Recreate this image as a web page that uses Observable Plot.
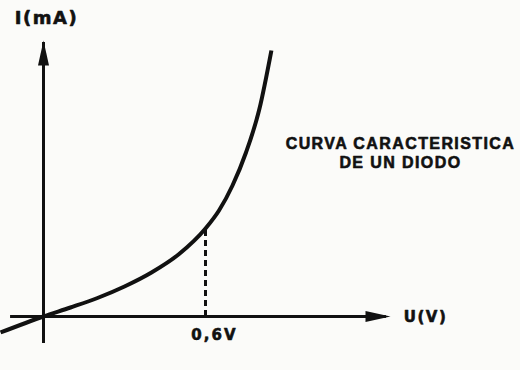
<!DOCTYPE html>
<html>
<head>
<meta charset="utf-8">
<script src="https://cdn.jsdelivr.net/npm/d3@7"></script>
<script src="https://cdn.jsdelivr.net/npm/@observablehq/plot@0.6"></script>
<style>
  html, body { margin: 0; padding: 0; background: #fbfbf9; }
  svg { display: block; }
  .lbl-i text { letter-spacing: 1.5px; }
  .lbl-u text { letter-spacing: 1.5px; }
  .lbl-knee text { letter-spacing: 2px; }
  .lbl-title text { letter-spacing: 1.4px; }
</style>
</head>
<body>
<div id="chart"></div>
<script>
// Diode characteristic curve: voltage (V) vs current (mA, arbitrary scale)
const voltage = [-0.159, 0, 0.1, 0.2, 0.3, 0.4, 0.5, 0.6, 0.65, 0.7, 0.75, 0.8, 0.844];
const current = [-1.6, 0, 0.9, 1.85, 3.0, 4.4, 6.2, 8.8, 10.6, 13.1, 16.4, 20.8, 26.6];
const kneeVoltage = [0.6];
const kneeCurrent = [8.8];
const kneeLabel = ["0,6V"];
const axisLabels = ["I(mA)", "U(V)"];
const titleLines = ["CURVA CARACTERISTICA", "DE UN DIODO"];
// axis extents (in data units)
const xAxisExtent = [-0.122, 1.27];
const yAxisExtent = [-2.7, 27.4];

const curve = voltage.map((v, i) => ({v, i: current[i]}));

// elongated filled arrowhead pointing up (rotated for x axis)
const arrowHead = {
  draw(ctx, size) {
    ctx.moveTo(0, -13);
    ctx.lineTo(5.5, 12);
    ctx.lineTo(-5.5, 12);
    ctx.closePath();
  }
};

const ink = "#111";
const textStyle = {fontWeight: "bold", fill: ink, stroke: ink, strokeWidth: 0.6};

const chart = Plot.plot({
  width: 520,
  height: 370,
  margin: 0,
  style: {background: "transparent", color: ink},
  x: {domain: [-43 / 270, 477 / 270], axis: null},
  y: {domain: [-5.4, 31.6], axis: null},
  marks: [
    // x axis
    Plot.ruleY([0], {x1: xAxisExtent[0], x2: xAxisExtent[1], stroke: ink, strokeWidth: 3}),
    Plot.dot([{v: 1.237, i: 0}], {x: "v", y: "i", symbol: arrowHead, fill: ink, stroke: "none", rotate: 90}),
    // y axis
    Plot.ruleX([0], {y1: yAxisExtent[0], y2: yAxisExtent[1], stroke: ink, strokeWidth: 3}),
    Plot.dot([{v: 0, i: 26.3}], {x: "v", y: "i", symbol: arrowHead, fill: ink, stroke: "none"}),
    // knee dashed line
    Plot.ruleX(kneeVoltage, {y1: 0, y2: kneeCurrent[0], stroke: ink, strokeWidth: 3, strokeDasharray: "6,4"}),
    // characteristic curve
    Plot.line(curve, {x: "v", y: "i", curve: "monotone-x", stroke: ink, strokeWidth: 4, strokeLinecap: "butt"}),
    // labels
    Plot.text([axisLabels[0]], {x: 0.011, y: 29.8, text: d => d, fontSize: 18, fontFamily: "DejaVu Sans", className: "lbl-i", ...textStyle}),
    Plot.text([axisLabels[1]], {x: 1.415, y: -0.1, text: d => d, fontSize: 15, fontFamily: "DejaVu Sans", className: "lbl-u", ...textStyle}),
    Plot.text(kneeLabel, {x: 0.633, y: -1.9, text: d => d, fontSize: 15, fontFamily: "DejaVu Sans", className: "lbl-knee", ...textStyle}),
    Plot.text(titleLines, {x: 1.322, y: (d, k) => [17.3, 15.4][k], text: d => d, fontSize: 16, fontFamily: "Liberation Sans", className: "lbl-title", ...textStyle})
  ]
});
document.getElementById("chart").appendChild(chart);
</script>
</body>
</html>
